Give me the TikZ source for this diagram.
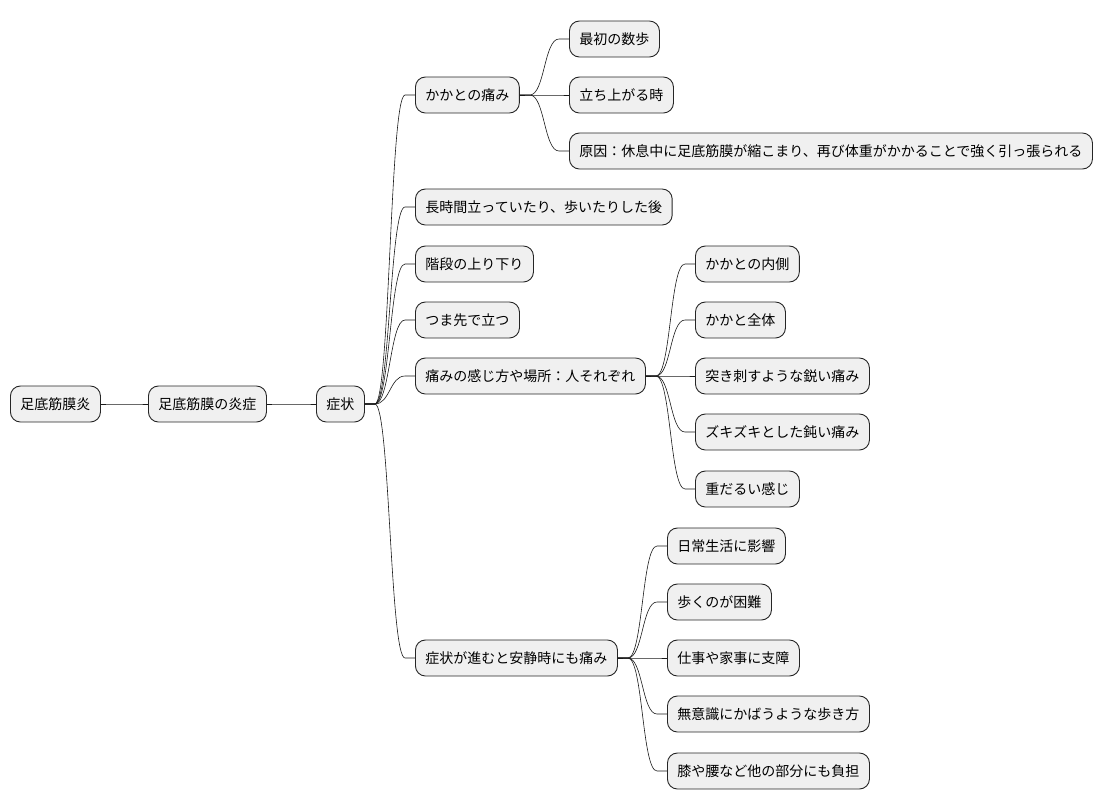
\documentclass[tikz,border=0pt]{standalone}
\usepackage{fontspec}
\setmainfont{Noto Sans CJK JP}
\usepackage{tikz}
\usetikzlibrary{calc}

\begin{document}
\begin{tikzpicture}[
    x=1pt, y=-1pt,
    topic/.style = {
        rectangle,
        draw=black!85,
        line width=0.9pt,
        fill=black!6,
        rounded corners=10pt,
        minimum height=36pt,
        inner xsep=10pt,
        anchor=west,
        font=\fontsize{14pt}{16pt}\selectfont
    },
    branch/.style = {
        line width=0.6pt,
        draw=black!90,
        to path={-- ++(10,0) .. controls +(15,0) and +(-15,0) .. ($(\tikztotarget)+(-10,0)$) -- (\tikztotarget)}
    }
]
    \useasboundingbox (0,0) rectangle (1104,809);

    % Root and first levels
    \node [topic] (root) at (10,404) {足底筋膜炎};
    \node [topic] (inflam) at (148,404) {足底筋膜の炎症};
    \node [topic] (symp) at (316,404) {症状};

    % Symptoms
    \node [topic] (heel) at (415,95) {かかとの痛み};
    \node [topic] (first) at (569,39) {最初の数歩};
    \node [topic] (standup) at (569,95) {立ち上がる時};
    \node [topic] (cause) at (569,151) {原因：休息中に足底筋膜が縮こまり、再び体重がかかることで強く引っ張られる};
    \node [topic] (longtime) at (415,207) {長時間立っていたり、歩いたりした後};
    \node [topic] (stairs) at (415,264) {階段の上り下り};
    \node [topic] (tiptoe) at (415,320) {つま先で立つ};
    \node [topic] (feel) at (415,376) {痛みの感じ方や場所：人それぞれ};
    \node [topic] (inner) at (695,264) {かかとの内側};
    \node [topic] (whole) at (695,320) {かかと全体};
    \node [topic] (sharp) at (695,376) {突き刺すような鋭い痛み};
    \node [topic] (dull) at (695,432) {ズキズキとした鈍い痛み};
    \node [topic] (heavy) at (695,489) {重だるい感じ};
    \node [topic] (rest) at (415,658) {症状が進むと安静時にも痛み};
    \node [topic] (daily) at (667,546) {日常生活に影響};
    \node [topic] (walk) at (667,602) {歩くのが困難};
    \node [topic] (work) at (667,658) {仕事や家事に支障};
    \node [topic] (gait) at (667,714) {無意識にかばうような歩き方};
    \node [topic] (knee) at (667,771) {膝や腰など他の部分にも負担};

    % Branches
    \draw [branch] (root.east) to (inflam.west);
    \draw [branch] (inflam.east) to (symp.west);
    \foreach \c in {heel,longtime,stairs,tiptoe,feel,rest}
        \draw [branch] (symp.east) to (\c.west);
    \foreach \c in {first,standup,cause}
        \draw [branch] (heel.east) to (\c.west);
    \foreach \c in {inner,whole,sharp,dull,heavy}
        \draw [branch] (feel.east) to (\c.west);
    \foreach \c in {daily,walk,work,gait,knee}
        \draw [branch] (rest.east) to (\c.west);

\end{tikzpicture}
\end{document}
